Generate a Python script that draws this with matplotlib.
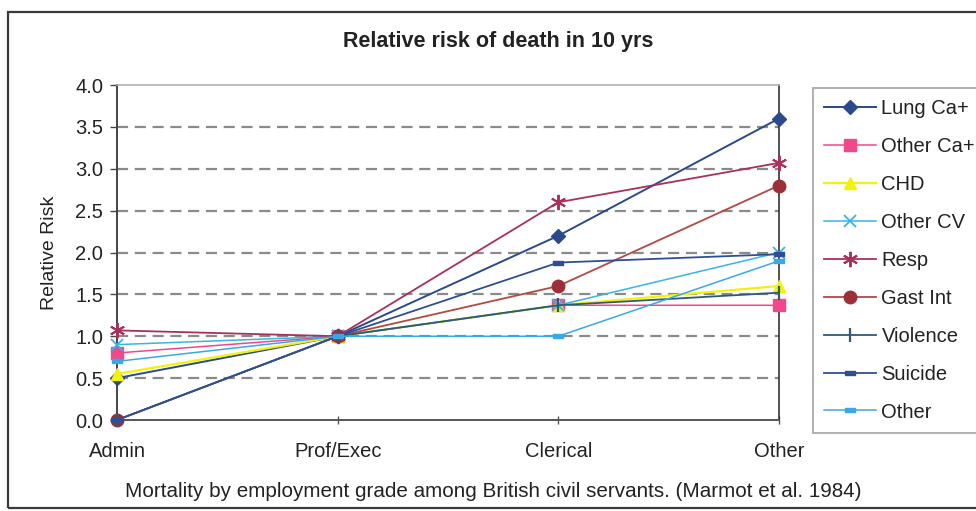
import matplotlib.pyplot as plt
from matplotlib.patches import Rectangle

plt.rcParams['font.family'] = ['Liberation Sans', 'DejaVu Sans']

grades = ['Admin', 'Prof/Exec', 'Clerical', 'Other']

lung_ca = [0.5, 1.0, 2.2, 3.6]
other_ca = [0.8, 1.0, 1.37, 1.37]
chd = [0.55, 1.0, 1.37, 1.6]
other_cv = [0.9, 1.0, 1.37, 2.0]
resp = [1.07, 1.0, 2.6, 3.07]
gast_int = [0.0, 1.0, 1.6, 2.8]
violence = [0.0, 1.0, 1.37, 1.52]
suicide = [0.0, 1.0, 1.88, 1.98]
other = [0.7, 1.0, 1.0, 1.9]

# short horizontal bar used as the "dash" marker
dash = [(-1, -0.4), (1, -0.4), (1, 0.4), (-1, 0.4), (-1, -0.4)]

series = [
    ('Lung Ca+', lung_ca, dict(color='#2B4A8B', marker='D', ms=7, lw=1.4)),
    ('Other Ca+', other_ca, dict(color='#F0488A', marker='s', ms=8, lw=1.1)),
    ('CHD', chd, dict(color='#F2F20A', marker='^', ms=8, lw=1.6)),
    ('Other CV', other_cv, dict(color='#38B4E6', marker='x', ms=8, mew=1.3, lw=1.1)),
    ('Resp', resp, dict(color='#A8305A', marker=(6, 2, 0), ms=11, mew=1.4, lw=1.3)),
    ('Gast Int', gast_int, dict(color='#B24A42', mfc='#9C3038', mec='#9C3038', marker='o', ms=9, lw=1.3)),
    ('Violence', violence, dict(color='#2D5A78', marker='|', ms=10, mew=1.6, lw=1.3)),
    ('Suicide', suicide, dict(color='#2E4F95', marker=dash, ms=7, lw=1.3)),
    ('Other', other, dict(color='#3AA8E8', marker=dash, ms=7, lw=1.1)),
]

fig = plt.figure(figsize=(9.76, 5.11), dpi=100)
W, H = 976, 511

# chart frame
fig.patches.append(Rectangle((8 / W, 1 - 508 / H), 1.2, (508 - 12) / H,
                             transform=fig.transFigure, fill=False,
                             edgecolor='#3a3a3a', lw=1.6))

ax = fig.add_axes([117 / W, 1 - 420 / H, (779 - 117) / W, (420 - 85) / H])
x = range(len(grades))
for label, values, style in series:
    ax.plot(x, values, label=label, clip_on=False, zorder=3, **style)

ax.set_xlim(0, 3)
ax.set_ylim(0, 4)
ax.set_yticks([i * 0.5 for i in range(9)])
ax.set_yticklabels([f'{i * 0.5:.1f}' for i in range(9)], fontsize=14.5, color='#222222')
ax.set_xticks(list(x))
ax.set_xticklabels(grades, fontsize=14.5, color='#222222')
ax.tick_params(axis='y', length=5, width=1, pad=5, colors='#444444', labelcolor='#222222')
ax.tick_params(axis='x', length=6, width=1, pad=13, direction='inout', colors='#555555',
               labelcolor='#222222')
for v in [0.5, 1.0, 1.5, 2.0, 2.5, 3.0, 3.5]:
    ax.axhline(v, color='#8a8a8a', lw=1.6, ls=(0, (5, 3)), zorder=1)

ax.spines['left'].set_color('#444444')
ax.spines['left'].set_linewidth(1.4)
ax.spines['bottom'].set_color('#555555')
ax.spines['bottom'].set_linewidth(1.4)
ax.spines['top'].set_color('#b0b0b0')
ax.spines['top'].set_linewidth(1.2)
ax.spines['right'].set_color('#333333')
ax.spines['right'].set_linewidth(1.2)
ax.spines['right'].set_linestyle((0, (3, 1)))

ax.set_ylabel('Relative Risk', fontsize=14, color='#222222', labelpad=12)

fig.text(498 / W, 1 - 41 / H, 'Relative risk of death in 10 yrs',
         ha='center', va='center', fontsize=15.5, fontweight='bold', color='#222222')
fig.text(493 / W, 1 - 491 / H,
         'Mortality by employment grade among British civil servants. (Marmot et al. 1984)',
         ha='center', va='center', fontsize=14.9, color='#222222')

leg = fig.legend(loc='upper left', bbox_to_anchor=(813 / W, 1 - 88 / H),
                 fontsize=14.5, frameon=True, fancybox=False, handlelength=2.6,
                 handletextpad=0.25, labelspacing=0.94, borderpad=0.55,
                 borderaxespad=0)
leg.get_frame().set_edgecolor('#8a8a8a')
leg.get_frame().set_linewidth(1.2)
for t in leg.get_texts():
    t.set_color('#222222')

fig.savefig('out.png', dpi=100)
